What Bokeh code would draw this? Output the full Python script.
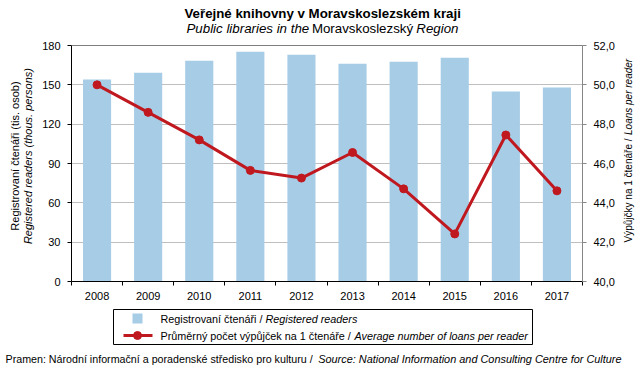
import math
from bokeh.plotting import figure
from bokeh.layouts import column, row
from bokeh.models import Range1d, LinearAxis, FixedTicker, CustomJSTickFormatter, Span
from bokeh.core.properties import value
from bokeh.embed import file_html
from bokeh.resources import INLINE

# ---- data ----
years = ["2008", "2009", "2010", "2011", "2012", "2013", "2014", "2015", "2016", "2017"]
readers = [154.0, 159.3, 168.4, 175.2, 173.0, 166.1, 167.6, 170.7, 144.9, 147.9]
loans = [50.0, 48.6, 47.2, 45.65, 45.26, 46.56, 44.71, 42.42, 47.45, 44.61]
left_ticks = [0, 30, 60, 90, 120, 150, 180]
right_ticks = [40, 42, 44, 46, 48, 50, 52]

FONT = "Liberation Sans"
BAR = "#a6cce6"
RED = "#c0181f"

W = 643
TOP_H, MAIN_H, BOT_H = 36, 269, 70
LEFT_W, RIGHT_W = 39, 22
MAIN_W = W - LEFT_W - RIGHT_W

xs = [i + 0.5 for i in range(len(years))]

p = figure(width=MAIN_W, height=MAIN_H, output_backend="svg", toolbar_location=None,
           x_range=Range1d(0, len(years)), y_range=Range1d(left_ticks[0], left_ticks[-1]),
           min_border_left=30, min_border_right=39, min_border_top=9, min_border_bottom=24)
p.extra_y_ranges = {"loans": Range1d(right_ticks[0], right_ticks[-1])}
p.outline_line_color = None
p.background_fill_color = "white"
p.border_fill_color = "white"

# x axis
xa = p.xaxis[0]
xa.ticker = FixedTicker(ticks=xs, minor_ticks=list(range(len(years) + 1)))
xa.major_label_overrides = {x: y for x, y in zip(xs, years)}
xa.major_tick_out = 0
xa.major_tick_in = 0
xa.minor_tick_out = 4
xa.minor_tick_in = 0
xa.minor_tick_line_color = "black"
xa.axis_line_color = "black"
xa.major_label_text_font = FONT
xa.major_label_text_font_size = "11px"
xa.major_label_text_color = "black"
xa.major_label_standoff = 6

# left axis
ya = p.yaxis[0]
ya.ticker = FixedTicker(ticks=left_ticks)
ya.major_tick_out = 4
ya.major_tick_in = 0
ya.minor_tick_line_color = None
ya.axis_line_color = "black"
ya.major_tick_line_color = "black"
ya.major_label_text_font = FONT
ya.major_label_text_font_size = "11px"
ya.major_label_text_color = "black"
ya.major_label_standoff = 7

# right axis
ra = LinearAxis(y_range_name="loans", ticker=FixedTicker(ticks=right_ticks),
                formatter=CustomJSTickFormatter(code="return tick.toFixed(1).replace('.', ',');"))
ra.major_tick_out = 4
ra.major_tick_in = 0
ra.minor_tick_line_color = None
ra.axis_line_color = "#868686"
ra.major_tick_line_color = "#868686"
ra.major_label_text_font = FONT
ra.major_label_text_font_size = "11px"
ra.major_label_text_color = "black"
ra.major_label_standoff = 7
p.add_layout(ra, "right")

p.xgrid.visible = False
p.ygrid.ticker = FixedTicker(ticks=left_ticks)
p.ygrid.grid_line_color = "#bfbfbf"

p.add_layout(Span(location=left_ticks[-1], dimension="width", line_color="black", line_width=1))

# marks
p.vbar(x=xs, top=readers, width=0.55, fill_color=BAR, line_color=None)
p.line(xs, loans, y_range_name="loans", line_color=RED, line_width=3)
p.scatter(xs, loans, y_range_name="loans", size=8, fill_color=RED, line_color=RED)


def deco_fig(w, h, flip=True):
    f = figure(width=w, height=h, output_backend="svg", toolbar_location=None,
               x_range=Range1d(0, w), y_range=Range1d(h, 0) if flip else Range1d(0, h),
               min_border=0, min_border_left=0, min_border_right=0,
               min_border_top=0, min_border_bottom=0)
    f.axis.visible = False
    f.grid.visible = False
    f.outline_line_color = None
    f.background_fill_color = "white"
    f.border_fill_color = "white"
    return f


def txt(f, s, x, y, size="10.5px", style="normal", align="left", angle=0.0):
    f.text(x=[x], y=[y], text=[s], text_font=value(FONT), text_font_size=size,
           text_font_style=style, text_align=align, text_baseline="middle",
           angle=angle, text_color="black")


# ---- top: titles ----
top = deco_fig(W, TOP_H)
txt(top, "Veřejné knihovny v Moravskoslezském  kraji", 324, 13, size="13.3px", style="bold", align="center")
txt(top, "Public libraries in the", 186, 28, size="13.3px", style="italic", align="left")
txt(top, "Moravskoslezský", 362, 28, size="13.3px", align="center")
txt(top, "Region", 458, 28, size="13.3px", style="italic", align="right")

# ---- left: axis title ----
left = deco_fig(LEFT_W, MAIN_H, flip=False)
txt(left, "Registrovaní čtenáři (tis. osob)", 14, 143, size="11px", angle=math.pi / 2, align="center")
txt(left, "Registered readers (thous. persons)", 27, 143, size="11px", style="italic",
    angle=math.pi / 2, align="center")

# ---- right: axis title ----
right = deco_fig(RIGHT_W, MAIN_H, flip=False)
txt(right, "Výpůjčky na 1 čtenáře /", 7, 163, size="10px", angle=math.pi / 2, align="right")
txt(right, "Loans per reader", 7, 167, size="10px", style="italic", angle=math.pi / 2, align="left")

# ---- bottom: legend + source ----
bot = deco_fig(W, BOT_H)
bot.quad(left=[113], right=[532], top=[4], bottom=[39], fill_color="white",
         line_color="black", line_width=1)
bot.rect(x=[137], y=[13], width=10, height=10, fill_color=BAR, line_color=None)
bot.line(x=[123, 152], y=[30, 30], line_color=RED, line_width=3)
bot.scatter(x=[137], y=[30], size=8, fill_color=RED, line_color=RED)
txt(bot, "Registrovaní čtenáři /", 160, 13, size="10.8px")
txt(bot, "Registered readers", 265, 13, size="10.8px", style="italic")
txt(bot, "Průměrný  počet výpůjček na 1 čtenáře /", 160, 30, size="10.8px")
txt(bot, "Average number of loans per reader", 354, 30, size="10.8px", style="italic")
txt(bot, "Pramen: Národní informační a poradenské středisko pro kulturu /", 5, 53, size="10.7px")
txt(bot, "Source: National Information and Consulting Centre for Culture", 621, 53,
    size="10.9px", style="italic", align="right")

layout = column(top, row(left, p, right), bot)
open("out.html", "w").write(file_html(layout, INLINE))
